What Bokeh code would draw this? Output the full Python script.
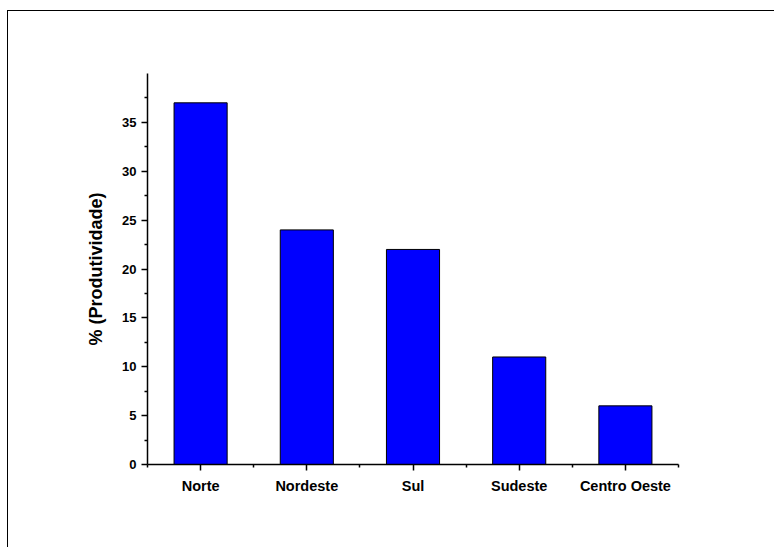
from bokeh.plotting import figure
from bokeh.models import FixedTicker, Range1d, ColumnDataSource
from bokeh.embed import file_html
from bokeh.resources import INLINE

regions = ["Norte", "Nordeste", "Sul", "Sudeste", "Centro Oeste"]
produtividade = [37, 24, 22, 11, 6]
y_ticks = [0, 5, 10, 15, 20, 25, 30, 35]
y_minor = [2.5, 7.5, 12.5, 17.5, 22.5, 27.5, 32.5, 37.5]

xpos = [i + 0.5 for i in range(len(regions))]
src = ColumnDataSource(dict(x=xpos, top=produtividade, name=regions))

p = figure(width=767, height=537, frame_width=531, frame_height=391,
           min_border_left=139, min_border_right=97, min_border_top=62, min_border_bottom=84,
           x_range=Range1d(0, len(regions)), y_range=Range1d(0, 40),
           output_backend="svg", toolbar_location=None)
p.margin = (10, 0, 0, 7)
p.styles = {"border-top": "1.5px solid black", "border-left": "1.5px solid black"}

p.vbar(x="x", top="top", width=0.5, bottom=0, source=src,
       fill_color="#0000FF", line_color="black", line_width=1)

p.background_fill_color = "white"
p.border_fill_color = "white"
p.outline_line_color = None
p.xgrid.visible = False
p.ygrid.visible = False

font = "Liberation Sans"

# y axis
ya = p.yaxis[0]
ya.ticker = FixedTicker(ticks=y_ticks, minor_ticks=y_minor)
ya.axis_label = "% (Produtividade)"
ya.axis_label_text_font = font
ya.axis_label_text_font_style = "bold"
ya.axis_label_text_font_size = "18px"
ya.axis_label_text_color = "black"
ya.axis_label_standoff = 13
ya.major_label_text_font = font
ya.major_label_text_font_style = "bold"
ya.major_label_text_font_size = "13px"
ya.major_label_text_color = "black"
ya.major_label_standoff = 5
ya.major_tick_out = 6
ya.major_tick_in = 0
ya.minor_tick_out = 3
ya.minor_tick_in = 0
ya.axis_line_width = 1.5
ya.major_tick_line_width = 1.5
ya.minor_tick_line_width = 1.5

# x axis
xa = p.xaxis[0]
xa.ticker = FixedTicker(ticks=xpos, minor_ticks=list(range(len(regions) + 1)))
xa.major_label_overrides = {x: n for x, n in zip(xpos, regions)}
xa.major_label_text_font = font
xa.major_label_text_font_style = "bold"
xa.major_label_text_font_size = "14.5px"
xa.major_label_text_color = "black"
xa.major_label_standoff = 7
xa.major_tick_out = 6
xa.major_tick_in = 0
xa.minor_tick_out = 3
xa.minor_tick_in = 0
xa.axis_line_width = 1.5
xa.major_tick_line_width = 1.5
xa.minor_tick_line_width = 1.5

open("out.html", "w").write(file_html(p, INLINE))
